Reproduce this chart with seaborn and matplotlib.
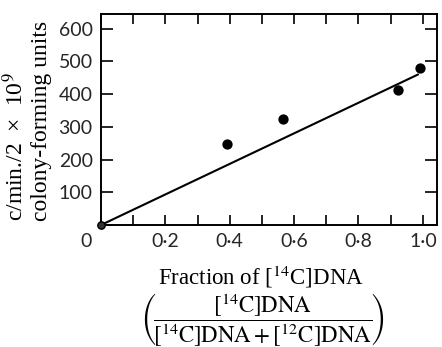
import matplotlib
matplotlib.use("Agg")
import matplotlib.pyplot as plt
import seaborn as sns
import pandas as pd
import matplotlib.transforms as mtransforms

# Measured counts against fraction of labelled DNA
fraction = [0.39, 0.566, 0.923, 0.99]
counts = [248, 323, 412, 479]
origin_x = [0.0]
origin_y = [0.0]
fit_x = [0.0, 0.985]
fit_y = [0.0, 460.0]

x_ticks = [0.1 * i for i in range(11)]
x_labels = ["0", "", "0·2", "", "0·4", "", "0·6", "", "0·8", "", "1·0"]
y_ticks = [0, 100, 200, 300, 400, 500, 600]
y_labels = ["", "100", "200", "300", "400", "500", "600"]

sns.set_theme(style="ticks")
plt.rcParams["mathtext.fontset"] = "stix"
plt.rcParams["font.family"] = ["Liberation Serif", "DejaVu Serif"]

fig = plt.figure(figsize=(4.42, 3.47), dpi=100)
ax = fig.add_axes([0.2285, 0.3516, 0.7602, 0.6081])

pts = pd.DataFrame({"fraction": fraction, "counts": counts})
fit = pd.DataFrame({"fraction": fit_x, "counts": fit_y})
org = pd.DataFrame({"fraction": origin_x, "counts": origin_y})

sns.lineplot(data=fit, x="fraction", y="counts", color="black", linewidth=1.5, ax=ax)
sns.scatterplot(data=pts, x="fraction", y="counts", color="black", s=55,
                edgecolor="black", linewidth=0, ax=ax, zorder=5)
sns.scatterplot(data=org, x="fraction", y="counts", color="#333333", s=28,
                edgecolor="black", linewidth=1.0, ax=ax, zorder=6, clip_on=False)

ax.set_xlim(0, 1.044)
ax.set_ylim(0, 645)

ax.set_xticks(x_ticks)
ax.set_xticklabels(x_labels, fontfamily="Lato", fontsize=14)
ax.set_yticks(y_ticks)
ax.set_yticklabels(y_labels, fontfamily="Lato", fontsize=14)

ax.tick_params(axis="x", direction="in", length=7, width=1.2, top=True, pad=6, color="black")
ax.tick_params(axis="y", direction="in", length=8.5, width=1.2, right=True, pad=6, color="black")

# the "0" sits left of the corner
shift = mtransforms.ScaledTranslation(-15 / 100, 0, fig.dpi_scale_trans)
first = ax.get_xticklabels()[0]
first.set_transform(first.get_transform() + shift)

for sp in ax.spines.values():
    sp.set_visible(True)
    sp.set_linewidth(1.4)
    sp.set_color("black")

ax.set_xlabel("")
ax.set_ylabel("")

fig.text(0.035, 0.362, "c/min./2  ×  10$^{9}$", rotation=90, ha="center", va="bottom",
         fontsize=17, color="black")
fig.text(0.095, 0.362, "colony-forming units", rotation=90, ha="center", va="bottom",
         fontsize=17, color="black")

fig.text(0.59, 0.202, "Fraction of [$^{14}$C]DNA", ha="center", va="center",
         fontsize=16.5, color="black")
fig.text(0.594, 0.078,
         r"$\left(\!\dfrac{[^{14}\mathrm{C}]\mathrm{DNA}}{[^{14}\mathrm{C}]\mathrm{DNA}+[^{12}\mathrm{C}]\mathrm{DNA}}\!\right)$",
         ha="center", va="center", fontsize=16.5, color="black")

fig.savefig("out.png", dpi=100)
